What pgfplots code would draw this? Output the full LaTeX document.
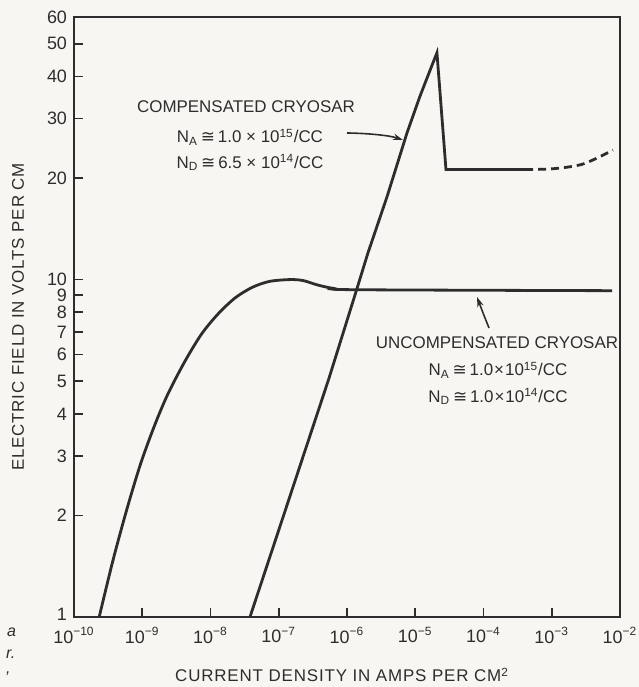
\documentclass[border=0pt]{standalone}
\usepackage{fontspec}
\setmainfont{Liberation Sans}
\newfontfamily\sym{DejaVu Sans}
\newfontfamily\lbl[LetterSpace=5]{Liberation Sans}
\usepackage{pgfplots}
\pgfplotsset{compat=1.18}
\usetikzlibrary{arrows.meta}
\definecolor{ink}{RGB}{45,45,45}
\definecolor{paper}{RGB}{247,246,242}
\newcommand{\ann}{\fontsize{8.5}{10}\selectfont}
\begin{document}
\begin{tikzpicture}
\useasboundingbox (-37bp,-35bp) rectangle (282.5bp,308.5bp);
\fill[paper] (-37bp,-35bp) rectangle (282.5bp,308.5bp);
\begin{axis}[
  at={(0,0)}, anchor=south west,
  scale only axis, width=273bp, height=300bp,
  xmode=log, ymode=log,
  xmin=1e-10, xmax=1e-2, ymin=1, ymax=60,
  clip=false,
  axis line style={ink, line width=1bp},
  xtick={1e-10,1e-9,1e-8,1e-7,1e-6,1e-5,1e-4,1e-3,1e-2},
  xticklabels={10\textsuperscript{−10},10\textsuperscript{−9},10\textsuperscript{−8},10\textsuperscript{−7},10\textsuperscript{−6},10\textsuperscript{−5},10\textsuperscript{−4},10\textsuperscript{−3},10\textsuperscript{−2}},
  ytick={1,2,3,4,5,6,7,8,9,10,20,30,40,50,60},
  yticklabels={\raisebox{2.5bp}{1},2,3,4,5,6,7,8,9,10,20,30,40,50,60},
  xminorticks=false, yminorticks=false,
  tick align=inside, xtick pos=bottom, ytick pos=left,
  major tick length=4.5bp,
  tick style={ink, line width=0.8bp},
  ticklabel style={font=\fontsize{9}{10}\selectfont, text=ink},
  xticklabel style={yshift=-1.5bp},
  /pgf/number format/assume math mode=true,
  xlabel={\lbl CURRENT DENSITY IN AMPS PER CM\textsuperscript{2}},
  ylabel={\lbl ELECTRIC FIELD IN VOLTS PER CM},
  xlabel style={at={(axis description cs:0.491,-0.1083)}, anchor=base, font=\fontsize{8.5}{10}\selectfont, text=ink},
  ylabel style={at={(axis description cs:-0.1026,0.5)}, anchor=center, font=\fontsize{8.5}{10}\selectfont, text=ink},
]
% uncompensated cryosar
\addplot[ink, line width=1.4bp, smooth, tension=0.5] coordinates {
  (2.34e-10,1) (3.72e-10,1.47) (5.89e-10,2.07) (9.33e-10,2.82) (1.48e-9,3.65)
  (2.34e-9,4.55) (4.17e-9,5.7) (7.41e-9,6.9) (1.32e-8,7.95) (2.34e-8,8.85)
  (4.17e-8,9.5) (7.41e-8,9.88) (1.48e-7,10.0) (2.29e-7,9.93) (3.63e-7,9.65)
  (6.3e-7,9.42) (1.41e-6,9.33) (7.64e-3,9.27)
};
% compensated cryosar
\addplot[ink, line width=1.4bp, line join=miter] coordinates {
  (3.79e-8,1) (5.45e-7,5.1) (1.40e-6,9.4) (2.03e-6,12.0) (3.86e-6,17.6)
  (7.57e-6,27.2) (1.17e-5,34.9) (1.82e-5,43.9) (2.08e-5,47)
  (2.82e-5,21.2) (4.06e-4,21.2)
};
\addplot[ink, line width=1.4bp, dash pattern=on 4bp off 2.5bp, smooth] coordinates {
  (4.06e-4,21.2) (1.04e-3,21.3) (2.87e-3,22.0) (7.89e-3,24.2)
};
% annotations
\node[anchor=base, text=ink, font=\ann] at (axis description cs:0.3150,0.8400) {COMPENSATED CRYOSAR};
\node[anchor=base, text=ink, font=\ann] at (axis description cs:0.3223,0.7900) {N\textsubscript{A}\,{\sym ≅}\,1.0 × 10\textsuperscript{15}/CC};
\node[anchor=base, text=ink, font=\ann] at (axis description cs:0.3223,0.7483) {N\textsubscript{D}\,{\sym ≅}\,6.5 × 10\textsuperscript{14}/CC};
\draw[ink, line width=0.8bp, -{Stealth[length=5bp,width=3.2bp]}] (axis description cs:0.5,0.8067) .. controls (axis description cs:0.545,0.806) and (axis description cs:0.58,0.802) .. (axis description cs:0.6026,0.795);
\node[anchor=base, text=ink, font=\ann] at (axis description cs:0.7747,0.4467) {UNCOMPENSATED CRYOSAR};
\node[anchor=base, text=ink, font=\ann] at (axis description cs:0.7766,0.4017) {N\textsubscript{A}\,{\sym ≅}\,1.0{\kern0.5pt}×{\kern0.5pt}10\textsuperscript{15}/CC};
\node[anchor=base, text=ink, font=\ann] at (axis description cs:0.7766,0.3583) {N\textsubscript{D}\,{\sym ≅}\,1.0{\kern0.5pt}×{\kern0.5pt}10\textsuperscript{14}/CC};
\draw[ink, line width=0.8bp, -{Stealth[length=5bp,width=3.2bp]}] (axis description cs:0.7601,0.4817) .. controls (axis description cs:0.752,0.50) .. (axis description cs:0.7381,0.5333);
\end{axis}
\node[text=ink, font=\itshape\fontsize{8}{9}\selectfont, anchor=west] at (-37bp,-7.5bp) {a};
\node[text=ink, font=\itshape\fontsize{8}{9}\selectfont, anchor=west] at (-37.5bp,-18.5bp) {r.};
\node[text=ink, font=\itshape\fontsize{8}{9}\selectfont, anchor=west] at (-37.5bp,-28.5bp) {,};
\end{tikzpicture}
\end{document}
